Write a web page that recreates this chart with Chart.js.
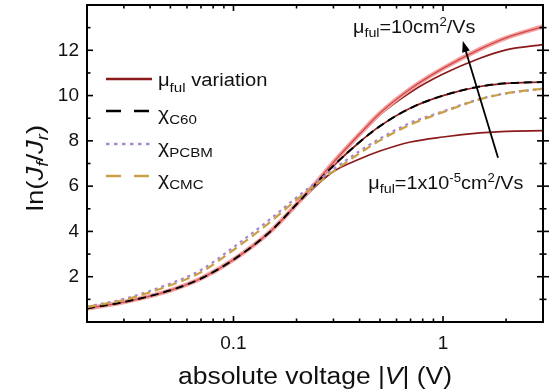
<!DOCTYPE html>
<html>
<head>
<meta charset="utf-8">
<script src="https://cdn.jsdelivr.net/npm/chart.js@4.4.1/dist/chart.umd.min.js"></script>
<style>
  html, body { margin: 0; padding: 0; background: #fff; }
  #wrap { width: 551px; height: 389px; }
</style>
</head>
<body>
<div id="wrap"><canvas id="chart" width="551" height="389"></canvas></div>
<script>
// ===== DATA =====
const voltage = [0.02, 0.03, 0.05, 0.07, 0.1, 0.15, 0.2, 0.25, 0.3, 0.4, 0.5, 0.7, 1, 1.5, 2, 3];

// mu_ful variation, highest mobility (10 cm2/Vs) down to lowest (1e-5 cm2/Vs)
const muTop    = [0.6, 0.88, 1.4, 1.92, 2.75, 4.0, 5.2, 6.2, 7.05, 8.3, 9.22, 10.3, 11.2, 12.05, 12.55, 13.05];
const muSecond = [0.6, 0.88, 1.4, 1.92, 2.75, 4.0, 5.2, 6.2, 7.05, 8.25, 9.15, 10.15, 10.95, 11.65, 12.02, 12.25];
const muThird  = [0.6, 0.88, 1.4, 1.92, 2.75, 4.0, 5.2, 6.15, 6.9, 7.95, 8.65, 9.45, 10.0, 10.4, 10.54, 10.6];
const muLow    = [0.6, 0.88, 1.4, 1.92, 2.75, 4.0, 5.15, 6.05, 6.65, 7.2, 7.55, 7.95, 8.17, 8.35, 8.42, 8.45];

const chiC60   = [0.6, 0.88, 1.4, 1.92, 2.75, 4.0, 5.2, 6.15, 6.9, 7.95, 8.65, 9.45, 10.0, 10.4, 10.54, 10.6];
const chiPCBM  = [0.68, 1.02, 1.7, 2.3, 3.3, 4.55, 5.5, 6.2, 6.75, 7.55, 8.1, 8.8, 9.3, 9.85, 10.1, 10.3];
const chiCMC   = [0.66, 0.98, 1.62, 2.2, 3.18, 4.42, 5.4, 6.1, 6.65, 7.45, 8.02, 8.72, 9.27, 9.83, 10.1, 10.3];

const xMajorTicks = [0.1, 1];
const xMinorTicks = [0.03, 0.04, 0.05, 0.06, 0.07, 0.08, 0.09, 0.2, 0.3, 0.4, 0.5, 0.6, 0.7, 0.8, 0.9, 2];
const yMajorTicks = [2, 4, 6, 8, 10, 12];
const yMinorTicks = [1, 3, 5, 7, 9, 11, 13];

// annotation anchors, in data units
const arrowFrom = { x: 1.83, y: 7.25 };
const arrowTo   = { x: 1.243, y: 12.41 };
const labelHigh = { x: 0.372, y: 12.76 };
const labelLow  = { x: 0.44, y: 5.89 };

const FONT = '"Liberation Sans", Arial, sans-serif';
const DARK_RED = '#8b1a1a';

const pts = arr => voltage.map((v, i) => ({ x: v, y: arr[i] }));

// ===== TEXT HELPERS =====
function runsWidth(ctx, runs) {
  let w = 0;
  for (const [t, size, , style] of runs) {
    ctx.font = `${style || ''} ${size}px ${FONT}`;
    w += ctx.measureText(t).width;
  }
  return w;
}

function drawRuns(ctx, runs, x, y, hs) {
  ctx.save();
  ctx.translate(x, y);
  ctx.scale(hs, 1);
  ctx.fillStyle = '#111';
  ctx.textAlign = 'left';
  ctx.textBaseline = 'alphabetic';
  let cx = 0;
  for (const [t, size, dy, style] of runs) {
    ctx.font = `${style || ''} ${size}px ${FONT}`;
    ctx.fillText(t, cx, dy || 0);
    cx += ctx.measureText(t).width;
  }
  ctx.restore();
}

// ===== FRAME, TICKS, LEGEND, LABELS =====
const decorations = {
  id: 'decorations',
  afterDatasetsDraw(chart) {
    const { ctx, chartArea: a, scales: { x, y } } = chart;
    ctx.save();
    ctx.strokeStyle = '#000';
    ctx.lineWidth = 2;
    ctx.strokeRect(a.left, a.top, a.right - a.left, a.bottom - a.top);

    const seg = (x1, y1, x2, y2) => { ctx.beginPath(); ctx.moveTo(x1, y1); ctx.lineTo(x2, y2); ctx.stroke(); };
    ctx.lineWidth = 1.6;
    const xTick = (v, len) => {
      const px = x.getPixelForValue(v);
      seg(px, a.bottom, px, a.bottom - len);
      seg(px, a.top, px, a.top + len);
    };
    const yTick = (v, len) => {
      const py = y.getPixelForValue(v);
      seg(a.left, py, a.left + len, py);
      seg(a.right - len, py, a.right + len, py);
    };
    xMajorTicks.forEach(v => xTick(v, 6));
    xMinorTicks.forEach(v => xTick(v, 3.5));
    yMajorTicks.forEach(v => yTick(v, 6));
    yMinorTicks.forEach(v => yTick(v, 3.5));

    // arrow
    const x1 = x.getPixelForValue(arrowFrom.x), y1 = y.getPixelForValue(arrowFrom.y);
    const x2 = x.getPixelForValue(arrowTo.x), y2 = y.getPixelForValue(arrowTo.y);
    const ang = Math.atan2(y2 - y1, x2 - x1);
    ctx.lineWidth = 1.8;
    seg(x1, y1, x2 - 8 * Math.cos(ang), y2 - 8 * Math.sin(ang));
    ctx.fillStyle = '#000';
    ctx.beginPath();
    ctx.moveTo(x2, y2);
    ctx.lineTo(x2 - 11 * Math.cos(ang) + 4 * Math.sin(ang), y2 - 11 * Math.sin(ang) - 4 * Math.cos(ang));
    ctx.lineTo(x2 - 11 * Math.cos(ang) - 4 * Math.sin(ang), y2 - 11 * Math.sin(ang) + 4 * Math.cos(ang));
    ctx.closePath();
    ctx.fill();

    // mobility labels
    drawRuns(ctx, [['μ', 18], ['ful', 13, 4], ['=10cm', 18], ['2', 12, -7], ['/Vs', 18]],
      x.getPixelForValue(labelHigh.x), y.getPixelForValue(labelHigh.y), 1.1);
    drawRuns(ctx, [['μ', 18], ['ful', 13, 4], ['=1x10', 18], ['-5', 12, -7], ['cm', 18], ['2', 12, -7], ['/Vs', 18]],
      x.getPixelForValue(labelLow.x), y.getPixelForValue(labelLow.y), 1.1);

    // legend
    const rows = [
      { color: DARK_RED, dash: [], runs: [['μ', 18], ['ful', 13.5, 6], [' variation', 18]], y: 79, dy: 7 },
      { color: '#000', dash: [15, 13], runs: [['χ', 19], ['C60', 13.5, 4]], y: 111, dy: 9 },
      { color: '#a587d4', dash: [3.5, 4.5], runs: [['χ', 19], ['PCBM', 13.5, 4]], y: 144, dy: 9 },
      { color: '#c9a046', dash: [15, 13], runs: [['χ', 19], ['CMC', 13.5, 4]], y: 176, dy: 9 }
    ];
    rows.forEach(r => {
      ctx.strokeStyle = r.color;
      ctx.lineWidth = 2.4;
      ctx.setLineDash(r.dash);
      seg(106, r.y, 152, r.y);
      ctx.setLineDash([]);
      drawRuns(ctx, r.runs, 158, r.y + r.dy, 1.12);
    });

    // axis titles
    const xt = [['absolute voltage |', 23], ['V', 23, 0, 'italic'], ['| (V)', 23]];
    const xw = runsWidth(ctx, xt) * 1.15;
    drawRuns(ctx, xt, 315 - xw / 2, 384, 1.15);

    const yt = [['ln(', 24], ['J', 24, 0, 'italic'], ['f', 16, 5, 'italic'], ['/', 24],
                ['J', 24, 0, 'italic'], ['r', 16, 5, 'italic'], [')', 24]];
    const yw = runsWidth(ctx, yt) * 1.15;
    ctx.save();
    ctx.translate(43, 168);
    ctx.rotate(-Math.PI / 2);
    drawRuns(ctx, yt, -yw / 2, 0, 1.15);
    ctx.restore();

    ctx.restore();
  }
};

// ===== CHART =====
const line = (data, color, width, dash) => ({
  data: pts(data), borderColor: color, borderWidth: width, borderDash: dash || [],
  pointRadius: 0, fill: false, cubicInterpolationMode: 'monotone'
});

// keep the plot frame where the axes say, without label overhang padding
const noPad = s => { s.paddingTop = 0; s.paddingBottom = 0; s.paddingLeft = 0; s.paddingRight = 0; };

new Chart(document.getElementById('chart'), {
  type: 'line',
  data: {
    datasets: [
      line(chiCMC, '#c9a046', 2.2, [9, 5]),
      line(chiPCBM, '#a587d4', 2.2, [3, 4]),
      line(chiC60, '#000', 2, [8, 5]),
      line(muTop, '#d04848', 1.3),
      line(muTop, '#f4a3a3', 4.5),
      line(muSecond, DARK_RED, 1.7),
      line(muThird, DARK_RED, 1.7),
      line(muLow, DARK_RED, 1.7)
    ]
  },
  options: {
    responsive: false,
    animation: false,
    layout: { padding: { left: 0, right: 8, top: 5, bottom: 0 } },
    plugins: { legend: { display: false }, tooltip: { enabled: false } },
    scales: {
      x: {
        type: 'logarithmic', min: 0.02, max: 3,
        grid: { display: false, drawTicks: false },
        border: { display: false },
        afterBuildTicks: s => { s.ticks = xMajorTicks.map(v => ({ value: v })); },
        afterFit: s => { s.height = 67; noPad(s); },
        ticks: { color: '#111', font: { family: FONT, size: 19 }, padding: 10, maxRotation: 0, autoSkip: false,
                 callback: v => String(v) }
      },
      y: {
        min: 0, max: 14,
        grid: { display: false, drawTicks: false },
        border: { display: false },
        afterBuildTicks: s => { s.ticks = yMajorTicks.map(v => ({ value: v })); },
        afterFit: s => { s.width = 87; noPad(s); },
        ticks: { color: '#111', font: { family: FONT, size: 19 }, padding: 8 }
      }
    }
  },
  plugins: [decorations]
});
</script>
</body>
</html>
